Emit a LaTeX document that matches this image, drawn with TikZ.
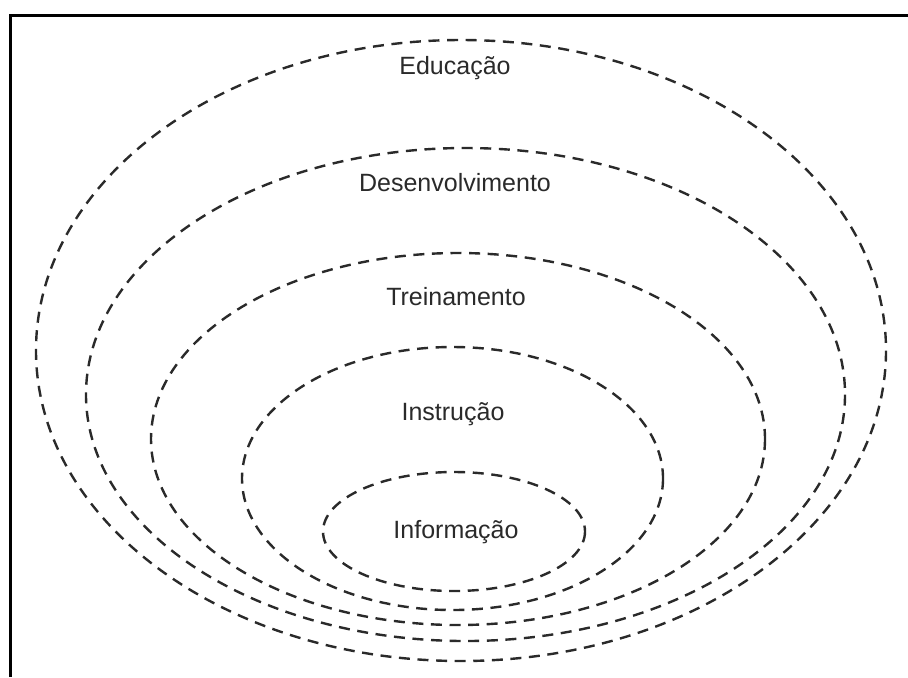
\documentclass[tikz,border=0pt]{standalone}
\usepackage{fontspec}
\setmainfont{Liberation Sans}
\definecolor{inkgray}{HTML}{2A2A2A}

\begin{document}
\begin{tikzpicture}[x=0.5pt,y=-0.5pt,
	ring/.style={inkgray,line width=1.2pt,dash pattern=on 5.5pt off 3.8pt},
	levellabel/.style={inkgray,anchor=base,inner sep=0pt,font=\fontsize{12.5}{14}\selectfont}]
	\useasboundingbox (0,0) rectangle (908,677);
	
	% Draw frame
	\draw[line width=1.5pt] (10,677) -- (10,15) -- (908,15);
	
	% Draw rings
	\foreach \cx/\cy/\rx/\ry in {461/350.5/425/310.5, 465.5/394.5/379.5/246.5, 458/439/307/186, 452.5/478.5/210.5/131.5, 454/531.5/131/59.5}
		\draw[ring] (\cx,\cy) ellipse [x radius=\rx, y radius=\ry];
	
	% Label rings
	\node[levellabel] (educ) at (455,74) {Educação};
	\node[levellabel] (desenv) at (455,191) {Desenvolvimento};
	\node[levellabel] (trein) at (456,305) {Treinamento};
	\node[levellabel] (instr) at (453,420) {Instrução};
	\node[levellabel] (inform) at (456,538) {Informação};
\end{tikzpicture}
\end{document}
